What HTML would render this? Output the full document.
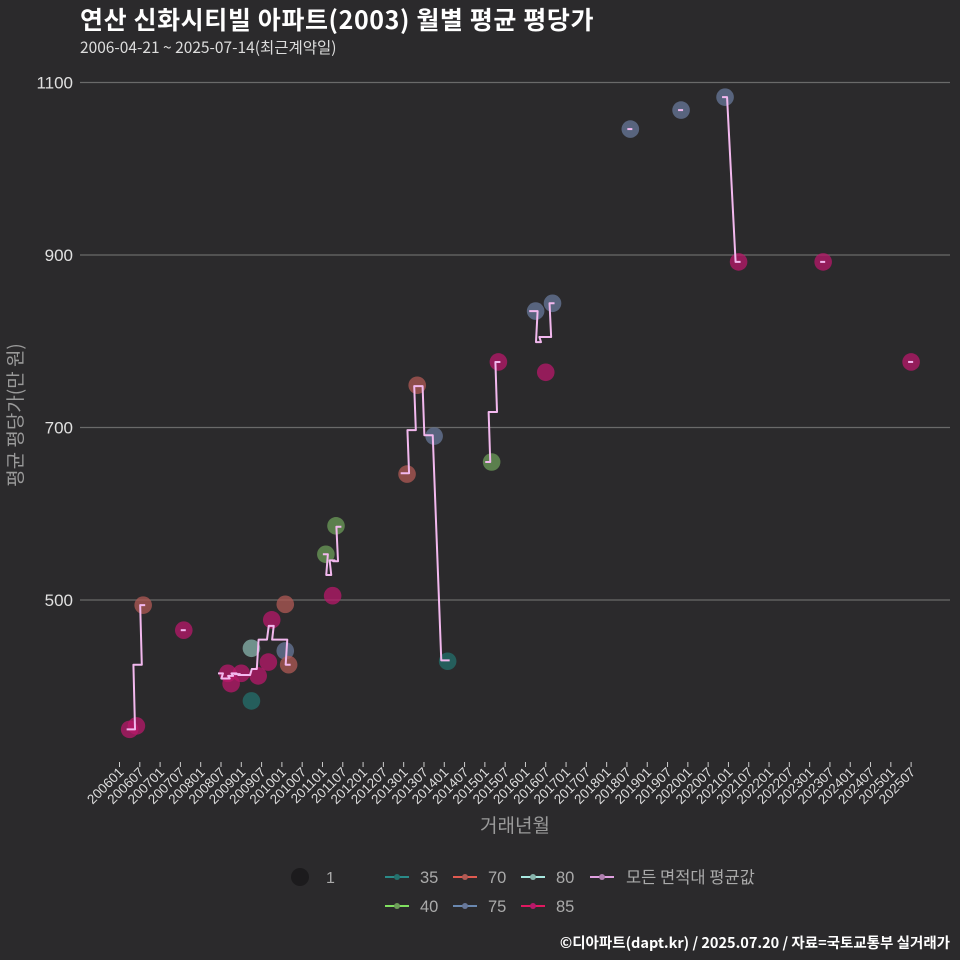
<!DOCTYPE html>
<html><head><meta charset="utf-8"><style>
body{margin:0;background:#2b2a2c;}
svg{display:block;font-family:"Liberation Sans","Noto Sans CJK KR",sans-serif;}
</style></head><body>
<svg id="c" width="960" height="960" viewBox="0 0 960 960">
<rect width="960" height="960" fill="#2b2a2c"/>
<text x="80" y="29" fill="#ffffff" font-size="25" font-weight="bold" letter-spacing="0.6" font-family="Noto Sans CJK KR, sans-serif">연산 신화시티빌 아파트(2003) 월별 평균 평당가</text>
<text x="80" y="53" fill="#dddddd" font-size="15.5" font-family="Noto Sans CJK KR, sans-serif">2006-04-21 ~ 2025-07-14(최근계약일)</text>
<g id="grid"></g>
<g id="pts"></g>
<g id="avg"></g>
<g id="xt"></g>
<text x="515" y="832" fill="#9a9a9a" font-size="19" text-anchor="middle" font-family="Noto Sans CJK KR, sans-serif">거래년월</text>
<text transform="translate(22,415) rotate(-90)" fill="#9a9a9a" font-size="19" text-anchor="middle" font-family="Noto Sans CJK KR, sans-serif">평균 평당가(만 원)</text>
<g id="legend"></g>
<text x="950" y="948" fill="#ffffff" font-size="14.5" font-weight="bold" text-anchor="end" font-family="Noto Sans CJK KR, sans-serif">©디아파트(dapt.kr) / 2025.07.20 / 자료=국토교통부 실거래가</text>
</svg>
<script>
const yTicks=[500,700,900,1100];
const xTickLabels=[];
for(let y=2006;y<=2025;y++){xTickLabels.push(y+'01');xTickLabels.push(y+'07');}
const ptMonth=[3,5,7,19,32,33,36,39,39,41,44,45,49,49,50,61,63,64,85,88,93,97,110,112,123,126,128,151,166,179,183,208,234];
const ptArea=[85,85,70,85,85,85,85,80,35,85,85,85,70,75,70,40,85,40,70,70,75,35,40,85,75,85,75,75,75,75,85,85,85];
const ptValue=[350,354,494,465,415,403,415,444,383,412,428,477,495,441,425,553,505,586,646,749,690,429,660,776,835,764,844,1046,1068,1083,892,892,776];
const avgGroup=[0,0,0,0,0, 1, 2,2,2,2,2,2,2,2,2,2,2,2,2,2,2,2, 3,3,3,3,3, 4,4,4,4,4,4,4,4,4,4, 5,5,5,5, 6,6,6,6,6,6, 7,8,9,9,10,11];
const avgMonth=[3,4,5,6,7, 19, 30,31,32,33,34,35,36,38,40,42,43,45,46,48,49,50, 61,62,63,64,65, 84,85,86,87,88,89,91,92,96,97, 109,110,111,112, 122,123,124,125,127,128, 151,166,179,183,208,234];
const avgValue=[350,350,425,425,494, 465, 415,409,409,412,415,414,413,413,420,454,454,470,454,454,454,425, 553,529,546,545,585, 647,647,697,697,748,748,691,691,430,430, 660,718,718,776, 835,835,799,805,805,844, 1046,1068,1083,892,892,776];
const lineCol={35:'#2a8a88',40:'#80e060',70:'#e05a50',75:'#6a88b0',80:'#a8e8e0',85:'#e01860'};
const fillCol={35:'#24706c',40:'#6c9c58',70:'#b05a54',75:'#68789a',80:'#88b4ac',85:'#b8186a'};
const X=m=>119.5+m*3.383;
const Y=v=>600-(v-500)*0.8625;
const NS='http://www.w3.org/2000/svg';
function mk(p,t,a){const e=document.createElementNS(NS,t);for(const k in a)e.setAttribute(k,a[k]);p.appendChild(e);return e;}
const grid=document.getElementById('grid');
yTicks.forEach(v=>{
 const l=mk(grid,'line',{x1:80,x2:950,y1:Y(v),y2:Y(v),stroke:'#6a6a6a','stroke-width':1.2});
 
 
 const t=mk(grid,'text',{x:73,y:Y(v)+6,fill:'#e0e0e0','font-size':17,'text-anchor':'end'});
 t.textContent=v;
 
 
});
const xt=document.getElementById('xt');
xTickLabels.forEach((s,i)=>{
 const x=X(i*6);
 const l=mk(xt,'line',{x1:x,x2:x,y1:762,y2:767,stroke:'#cccccc','stroke-width':1});
 
 
 const t=mk(xt,'text',{transform:`translate(${x+5},${773}) rotate(-45)`,fill:'#dddddd','font-size':13.5,'text-anchor':'end'});
 t.textContent=s;
 
 
});
const pts=document.getElementById('pts');
ptMonth.forEach((m,i)=>{
 const c=mk(pts,'circle',{cx:X(m),cy:Y(ptValue[i]),r:8.8,fill:fillCol[ptArea[i]],'fill-opacity':0.75});
 
 
});
const avg=document.getElementById('avg');
let groups={};
avgMonth.forEach((m,i)=>{(groups[avgGroup[i]]=groups[avgGroup[i]]||[]).push([m,avgValue[i]]);});
Object.keys(groups).forEach(g=>{
 let d='';
 groups[g].forEach(([m,v],j)=>{
  const x=X(m),y=Y(v);
  d+=(j?'L':'M')+(x-3)+','+y+'L'+(x+2)+','+y;
 });
 const p=mk(avg,'path',{d:d,fill:'none',stroke:'#f2b8ee','stroke-width':2,'stroke-linejoin':'round'});
 
 
});
const lg=document.getElementById('legend');
const c1=mk(lg,'circle',{cx:300,cy:877,r:9,fill:'#1c1b1d'});


const t1=mk(lg,'text',{x:326,y:883,fill:'#aaaaaa','font-size':16});
t1.textContent='1';


const items=[[35,385,877],[70,453,877],[80,521,877],[40,385,906],[75,453,906],[85,521,906]];
items.forEach(([a,x,y])=>{
 const g=mk(lg,'g',{});
 
 
 mk(g,'line',{x1:x,x2:x+24,y1:y,y2:y,stroke:lineCol[a],'stroke-width':2});
 mk(g,'circle',{cx:x+12,cy:y,r:3,fill:fillCol[a]});
 const t=mk(g,'text',{x:x+35,y:y+6,fill:'#aaaaaa','font-size':16.5});
 t.textContent=a;
});
const g=mk(lg,'g',{});


mk(g,'line',{x1:590,x2:614,y1:877,y2:877,stroke:'#e0a0e0','stroke-width':2});
mk(g,'circle',{cx:602,cy:877,r:3,fill:'#b080b0'});
const ta=mk(g,'text',{x:626,y:883,fill:'#aaaaaa','font-size':16.5,'font-family':'Noto Sans CJK KR, sans-serif'});
ta.textContent='모든 면적대 평균값';
</script>
</body></html>
